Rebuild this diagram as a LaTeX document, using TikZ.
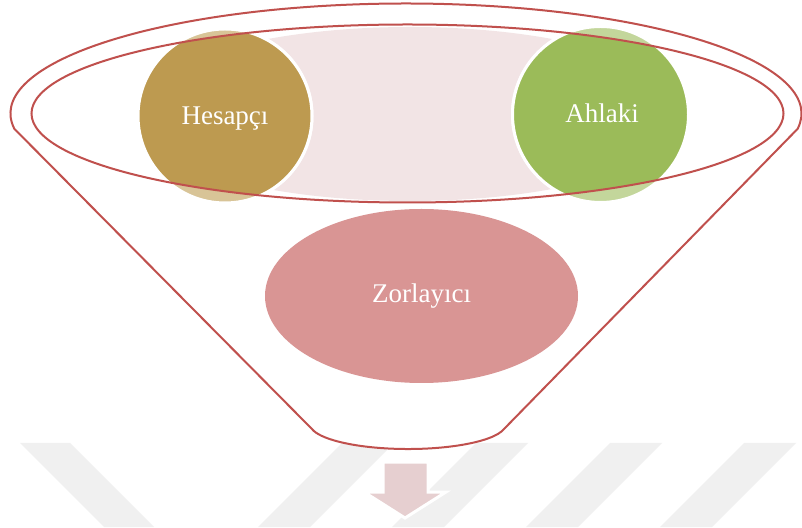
\documentclass[tikz,border=0pt]{standalone}
\usepackage{fontspec}
\setmainfont{Liberation Serif}
\usetikzlibrary{calc}
\definecolor{funnelred}{HTML}{C0504D}
\definecolor{golddark}{HTML}{BD9A50}
\definecolor{goldlight}{HTML}{D8C497}
\definecolor{greendark}{HTML}{9BBB59}
\definecolor{greenlight}{HTML}{C3D69B}
\definecolor{bandpink}{HTML}{F2E4E5}
\definecolor{rosefill}{HTML}{D99594}
\definecolor{arrowpink}{HTML}{E6CFD0}
\definecolor{wmgray}{HTML}{F0F0F0}
\begin{document}
\begin{tikzpicture}[x=1pt,y=1pt,
  labeltext/.style={text=white, font=\fontsize{27}{32}\selectfont, inner sep=0pt},
  outline/.style={draw=funnelred, line width=2pt},
  ringwhite/.style={draw=white, line width=3pt}]
\useasboundingbox (0,0) rectangle (802,527);
\fill[white] (0,0) rectangle (802,527);

% faint diagonal bands along the bottom
\fill[wmgray] (20,84) -- (70,84) -- (154,0) -- (104,0) -- cycle;
\foreach \x in {342,476,610,744}
  \fill[wmgray] (\x,84) -- (\x+52,84) -- (\x-32,0) -- (\x-84,0) -- cycle;

% key points of the funnel
\coordinate (oc) at (406,413.5);      % centre of the rim
\coordinate (ic) at (407.5,413.5);    % centre of the inner ellipse
\coordinate (hc) at (225,411);        % Hesapci circle
\coordinate (ac) at (600.5,412.5);    % Ahlaki circle
\coordinate (zc) at (421.5,231);      % Zorlayici ellipse
\coordinate (rimL) at ($(oc)+(188:395.5 and 110)$);
\coordinate (rimR) at ($(oc)+(-8:395.5 and 110)$);
\coordinate (neckR) at (504,98);

% funnel body (white fill over the bands)
\fill[white] (rimL) arc[start angle=188, end angle=-8, x radius=395.5, y radius=110]
  -- (neckR) arc[start angle=-11.5, end angle=-168.5, x radius=98, y radius=25] -- cycle;

% pale band joining the two circles
\begin{scope}
  \clip (225,0) rectangle (601,527);
  \fill[bandpink] (410,413) ellipse [x radius=280, y radius=87];
\end{scope}

% circles: pale outside the inner ellipse, full colour inside
\filldraw[fill=goldlight, ringwhite] (hc) circle[radius=87];
\filldraw[fill=greenlight, ringwhite] (ac) circle[radius=88];
\begin{scope}
  \clip (ic) ellipse [x radius=376, y radius=89];
  \filldraw[fill=golddark, ringwhite] (hc) circle[radius=87];
  \filldraw[fill=greendark, ringwhite] (ac) circle[radius=88];
\end{scope}

% lower ellipse
\fill[rosefill] (zc) ellipse [x radius=156.5, y radius=87];

% arrow below the funnel
\filldraw[fill=arrowpink, ringwhite, line join=miter]
  (383,65) -- (428,65) -- (428,35) -- (446,35) -- (405,9) -- (364,35) -- (383,35) -- cycle;

% funnel outline and inner ellipse
\draw[outline] (rimL) arc[start angle=188, end angle=-8, x radius=395.5, y radius=110]
  -- (neckR) arc[start angle=-11.5, end angle=-168.5, x radius=98, y radius=25] -- cycle;
\draw[outline] (ic) ellipse [x radius=376, y radius=89];

% labels
\node[labeltext, anchor=base] (hes) at (225,402) {Hesapçı};
\node[labeltext, anchor=base] (ahl) at (602,404) {Ahlaki};
\node[labeltext, anchor=base] (zor) at (421.5,224) {Zorlayıcı};
\end{tikzpicture}
\end{document}
